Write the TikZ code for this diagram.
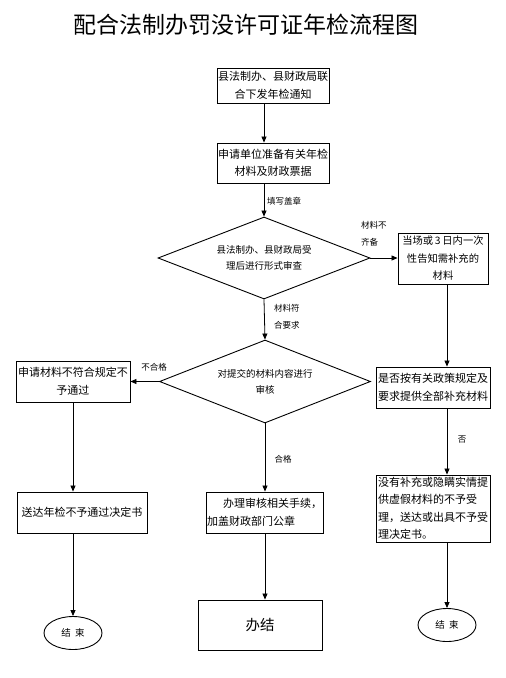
\documentclass[tikz,border=0pt]{standalone}
\usepackage{fontspec}
\setmainfont{Noto Sans CJK SC}
\usetikzlibrary{arrows.meta,shapes.geometric}

\begin{document}
\begin{tikzpicture}[x=1pt,y=-1pt,
    box/.style={draw,line width=0.9pt,inner sep=1pt,align=center,
      font=\fontsize{11}{17.5}\selectfont},
    decision/.style={draw,diamond,aspect=2.58,line width=0.9pt,inner sep=0pt,align=center,
      font=\fontsize{9.5}{16}\selectfont},
    terminal/.style={draw,ellipse,line width=0.9pt,inner sep=0pt,
      font=\fontsize{9.5}{12}\selectfont},
    tag/.style={align=left,inner sep=0pt,font=\fontsize{8.5}{17}\selectfont},
    arr/.style={-{Triangle[length=6pt,width=5pt]},line width=0.8pt}]
    \useasboundingbox (0,0) rectangle (506,678);

    % Title
    \node[font=\fontsize{23}{26}\selectfont] (title) at (246,25) {配合法制办罚没许可证年检流程图};

    % Middle column
    \node[box,minimum width=112pt,minimum height=35pt] (notice) at (273,85.5) {县法制办、县财政局联\\合下发年检通知};
    \node[box,minimum width=112pt,minimum height=40pt] (prepare) at (273,163) {申请单位准备有关年检\\材料及财政票据};
    \node[decision,minimum width=212pt,minimum height=82pt] (formcheck) at (264,258) {县法制办、县财政局受\\理后进行形式审查};
    \node[decision,minimum width=211pt,minimum height=83pt] (contentcheck) at (265,381.5) {对提交的材料内容进行\\审核};
    \node[box,align=left,minimum width=115pt,minimum height=41pt] (handle) at (264.5,512.5) {\hspace*{16pt}办理审核相关手续，\\加盖财政部门公章};
    \node[box,minimum width=124pt,minimum height=50pt,font=\fontsize{14.5}{16}\selectfont] (done) at (260,625) {办结};

    % Right column
    \node[box,minimum width=90pt,minimum height=51pt,font=\fontsize{10.3}{17.5}\selectfont] (inform) at (443,258.5) {当场或\,3\,日内一次\\性告知需补充的\\材料};
    \node[box,minimum width=114pt,minimum height=41pt] (supply) at (433,387.5) {是否按有关政策规定及\\要求提供全部补充材料};
    \node[box,align=left,minimum width=114pt,minimum height=67pt] (refuse) at (433,508.5) {没有补充或隐瞒实情提\\供虚假材料的不予受\\理，送达或出具不予受\\理决定书。};
    \node[terminal,minimum width=58pt,minimum height=33pt] (endright) at (447,625) {结\ \ 束};

    % Left column
    \node[box,minimum width=114pt,minimum height=41pt] (reject) at (73,381.5) {申请材料不符合规定不\\予通过};
    \node[box,minimum width=130pt,minimum height=41pt] (sendno) at (82,512.5) {送达年检不予通过决定书};
    \node[terminal,minimum width=58pt,minimum height=33pt] (endleft) at (73,633) {结\ \ 束};

    % Connectors
    \draw[arr] (notice.south -| formcheck) -- (prepare.north -| formcheck);
    \draw[arr] (prepare.south -| formcheck) -- (formcheck.north);
    \draw[arr] (formcheck.east) -- (inform.west |- formcheck);
    \draw[arr] (formcheck.south) -- (contentcheck.north);
    \draw[arr] (inform.south -| endright) -- (supply.north -| endright);
    \draw[arr] (supply.south -| endright) -- (refuse.north -| endright);
    \draw[arr] (refuse.south -| endright) -- (endright.north);
    \draw[arr] (contentcheck.west) -- (reject.east |- contentcheck);
    \draw[arr] (reject.south -| endleft) -- (sendno.north -| endleft);
    \draw[arr] (sendno.south -| endleft) -- (endleft.north);
    \draw[arr] (contentcheck.south) -- (handle.north -| contentcheck);
    \draw[arr] (handle.south -| contentcheck) -- (done.north -| contentcheck);

    % Labels
    \node[tag,anchor=west] (fill) at (267,201) {填写盖章};
    \node[tag,anchor=west] (incomplete) at (361,233.5) {材料不\\齐备};
    \node[tag,anchor=west] (complete) at (274,317) {材料符\\合要求};
    \node[tag] (fail) at (154,367) {不合格};
    \node[tag] (pass) at (283,459) {合格};
    \node[tag] (no) at (462,440) {否};
\end{tikzpicture}
\end{document}
